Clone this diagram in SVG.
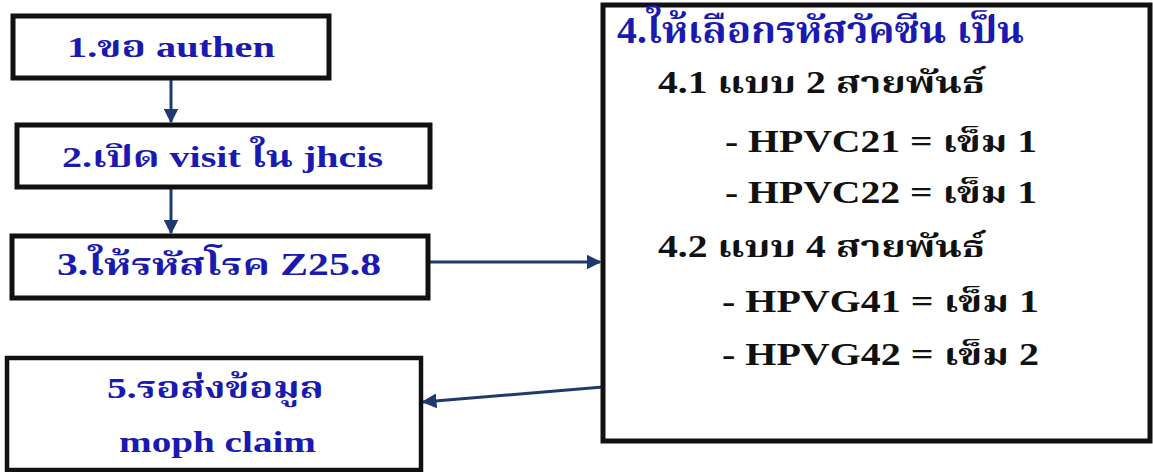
<svg xmlns="http://www.w3.org/2000/svg" width="1153" height="472" viewBox="0 0 1153 472">
<defs>
<marker id="ah" viewBox="0 0 10 10" refX="9" refY="5" markerWidth="5" markerHeight="5" orient="auto" markerUnits="strokeWidth">
<path d="M0,0 L10,5 L0,10 z" fill="#1f3a6e"/>
</marker>
<style>
.box{fill:#ffffff;stroke:#111111;stroke-width:5}
text{font-family:'Liberation Serif',serif;font-weight:bold}
.th{font-family:'Noto Serif Thai','Noto Sans Thai','Loma','Garuda',sans-serif}
.blue{fill:#1a1ab0}
.blk{fill:#111111}
.conn{stroke:#1f3a6e;stroke-width:3;fill:none;marker-end:url(#ah)}
</style>
</defs>
<rect width="1153" height="472" fill="#ffffff"/>
<g id="connectors">
<line class="conn" x1="171" y1="80" x2="171" y2="122"/>
<line class="conn" x1="171" y1="189" x2="171" y2="233"/>
<line class="conn" x1="430" y1="262" x2="600" y2="262"/>
<path class="conn" d="M603,387 L423,402"/>
</g>
<g id="n1">
<rect class="box" x="13" y="16" width="316" height="62"/>
<text class="blue" x="67" y="57" font-size="30" textLength="208" lengthAdjust="spacingAndGlyphs">1.<tspan class="th">ขอ</tspan> authen</text>
</g>
<g id="n2">
<rect class="box" x="17" y="125" width="413" height="62"/>
<text class="blue" x="62" y="167" font-size="30" textLength="321" lengthAdjust="spacingAndGlyphs">2.<tspan class="th">เปิด</tspan> visit <tspan class="th">ใน</tspan> jhcis</text>
</g>
<g id="n3">
<rect class="box" x="12" y="236" width="416" height="62"/>
<text class="blue" x="57" y="275" font-size="31" textLength="324" lengthAdjust="spacingAndGlyphs">3.<tspan class="th">ให้รหัสโรค</tspan> Z25.8</text>
</g>
<g id="n4">
<rect class="box" x="603" y="5" width="547" height="436"/>
<text class="blue" x="617" y="43" font-size="38" textLength="407" lengthAdjust="spacingAndGlyphs">4.<tspan class="th">ให้เลือกรหัสวัคซีน เป็น</tspan></text>
<text class="blk" x="658" y="93" font-size="31" textLength="327" lengthAdjust="spacingAndGlyphs">4.1 <tspan class="th">แบบ</tspan> 2 <tspan class="th">สายพันธ์</tspan></text>
<text class="blk" x="725" y="152" font-size="31" textLength="312" lengthAdjust="spacingAndGlyphs">- HPVC21 = <tspan class="th">เข็ม</tspan> 1</text>
<text class="blk" x="725" y="203" font-size="31" textLength="312" lengthAdjust="spacingAndGlyphs">- HPVC22 = <tspan class="th">เข็ม</tspan> 1</text>
<text class="blk" x="658" y="257" font-size="31" textLength="327" lengthAdjust="spacingAndGlyphs">4.2 <tspan class="th">แบบ</tspan> 4 <tspan class="th">สายพันธ์</tspan></text>
<text class="blk" x="722" y="312" font-size="31" textLength="317" lengthAdjust="spacingAndGlyphs">- HPVG41 = <tspan class="th">เข็ม</tspan> 1</text>
<text class="blk" x="722" y="365" font-size="31" textLength="317" lengthAdjust="spacingAndGlyphs">- HPVG42 = <tspan class="th">เข็ม</tspan> 2</text>
</g>
<g id="n5">
<rect class="box" x="7" y="358" width="414" height="112" style="stroke-width:4.5"/>
<text class="blue" x="107" y="398" font-size="30" textLength="217" lengthAdjust="spacingAndGlyphs">5.<tspan class="th">รอส่งข้อมูล</tspan></text>
<text class="blue" x="119" y="452" font-size="30" textLength="197" lengthAdjust="spacingAndGlyphs">moph claim</text>
</g>
</svg>
